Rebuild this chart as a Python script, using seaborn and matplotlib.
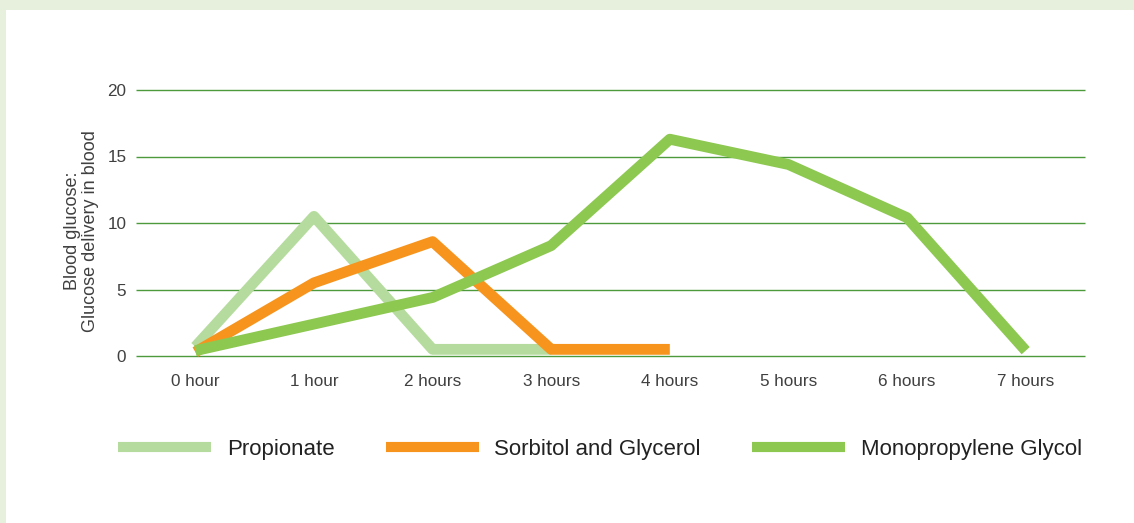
import numpy as np
import pandas as pd
import matplotlib
matplotlib.use("Agg")
import matplotlib.pyplot as plt
import seaborn as sns
from matplotlib.patches import Rectangle

# ---------- DATA ----------
HOURS = ["0 hour", "1 hour", "2 hours", "3 hours", "4 hours", "5 hours", "6 hours", "7 hours"]
propionate = [0.7, 10.5, 0.5, 0.5]
sorbitol_glycerol = [0.3, 5.5, 8.6, 0.5, 0.5]
monopropylene = [0.4, 2.4, 4.4, 8.3, 16.3, 14.4, 10.4, 0.4]
SERIES = ["Propionate", "Sorbitol and Glycerol", "Monopropylene Glycol"]
COLORS = ["#b5dc9e", "#f7941d", "#8dc851"]
# --------------------------

sns.set_style("white")
plt.rcParams['font.family'] = ['Liberation Sans', 'DejaVu Sans']
plt.rcParams['lines.solid_capstyle'] = 'butt'

rows = []
for name, vals in zip(SERIES, [propionate, sorbitol_glycerol, monopropylene]):
    for i, v in enumerate(vals):
        rows.append({"hour": i, "value": v, "series": name})
df = pd.DataFrame(rows)

fig = plt.figure(figsize=(11.34, 5.23), dpi=100, facecolor="#e6f0dc")
# white panel inside the pale green frame
fig.patches.append(Rectangle((6 / 1134, 0), 1, 1 - 10 / 523, transform=fig.transFigure,
                             facecolor="white", edgecolor="none", zorder=-10))
ax = fig.add_axes([136 / 1134, 1 - 356 / 523, (1085 - 136) / 1134, 266 / 523])
ax.set_zorder(5)
ax.set_facecolor("none")

sns.lineplot(data=df, x="hour", y="value", hue="series", hue_order=SERIES,
             palette=COLORS, linewidth=7.8, ax=ax, sort=False, clip_on=False)

ax.set_xlim(-0.5, 7.5)
ax.set_ylim(0, 20)
ax.set_yticks([0, 5, 10, 15, 20])
ax.set_xticks(range(len(HOURS)))
ax.set_xticklabels(HOURS)
ax.yaxis.grid(True, color="#4c9a3c", lw=1)
for gl in ax.get_ygridlines():
    gl.set_clip_on(False)
ax.set_axisbelow(True)
for s in ax.spines.values():
    s.set_visible(False)
ax.tick_params(axis="both", length=0, labelsize=12.3, labelcolor="#404040")
ax.tick_params(axis="x", pad=13)
ax.tick_params(axis="y", pad=7)
ax.set_xlabel("")
ax.set_ylabel("Blood glucose:\nGlucose delivery in blood", fontsize=13, color="#404040",
              linespacing=1.05)
ax.yaxis.set_label_coords(-0.039, 0.47)

handles, labels = ax.get_legend_handles_labels()
for h in handles:
    h.set_linewidth(7.3)
ax.legend(handles, labels, loc="center left", bbox_to_anchor=(-0.019, -0.35), ncol=3,
          frameon=False, fontsize=16, handlelength=4.2, handletextpad=0.7,
          columnspacing=2.3, borderpad=0, borderaxespad=0, labelcolor="#222222")

fig.savefig("out.png", dpi=100, facecolor=fig.get_facecolor())
